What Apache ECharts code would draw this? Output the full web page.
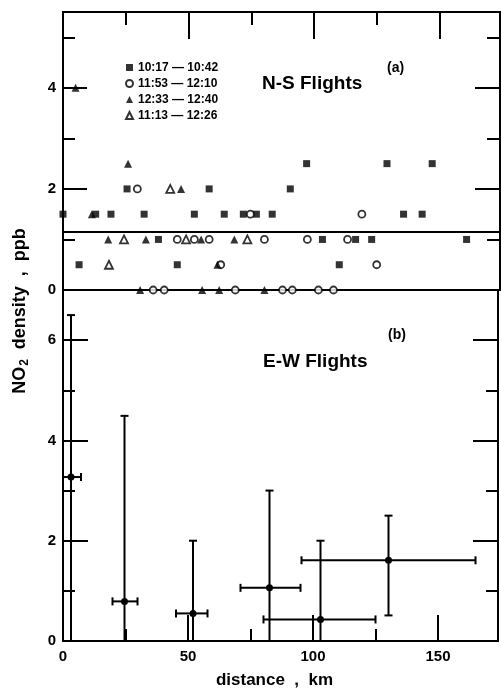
<!DOCTYPE html>
<html>
<head>
<meta charset="utf-8">
<script src="https://cdn.jsdelivr.net/npm/echarts@6/dist/echarts.min.js"></script>
<style>
html, body { margin: 0; padding: 0; background: #fff; }
#chart { width: 501px; height: 694px; }
</style>
</head>
<body>
<div id="chart"></div>
<script>
// (a) N-S flights : distance (km) and NO2 density (ppb), one pair of arrays per time window
const sqName = '10:17 — 10:42'
const sqDist = [97, 129, 147, 25.5, 58.2, 90.5, 0, 13, 19.1, 32.3, 52.3, 64.2, 71.8, 77, 83.3, 135.6, 143, 38, 103.3, 116.5, 122.9, 160.7, 6.4, 45.5, 110]
const sqVal = [2.5, 2.5, 2.5, 2, 2, 2, 1.5, 1.5, 1.5, 1.5, 1.5, 1.5, 1.5, 1.5, 1.5, 1.5, 1.5, 1, 1, 1, 1, 1, 0.5, 0.5, 0.5]

const circName = '11:53 — 12:10'
const circDist = [29.6, 74.6, 119, 45.5, 52.3, 58.2, 80.2, 97.3, 113.3, 62.8, 124.9, 35.9, 40.3, 68.6, 87.4, 91.3, 101.7, 107.7]
const circVal = [2, 1.5, 1.5, 1, 1, 1, 1, 1, 1, 0.5, 0.5, 0, 0, 0, 0, 0, 0, 0]

const triName = '12:33 — 12:40'
const triDist = [5, 25.9, 47, 11.5, 18, 33, 55, 68.2, 61.5, 30.7, 55.4, 62.2, 80.2]
const triVal = [4, 2.5, 2, 1.5, 1, 1, 1, 1, 0.5, 0, 0, 0, 0]

const openTriName = '11:13 — 12:26'
const openTriDist = [42.7, 24.3, 49, 73.4, 18.3]
const openTriVal = [2, 1, 1, 1, 0.5]

const nsDivider = 1.16

// (b) E-W flights : means with error ranges
const ewDist = [3.2, 24.6, 52, 82.6, 103, 130.2]
const ewDistLo = [0, 19.8, 45.2, 71, 80.2, 95.4]
const ewDistHi = [7.2, 29.8, 57.8, 95, 125, 165]
const ewVal = [3.27, 0.79, 0.55, 1.06, 0.43, 1.61]
const ewValLo = [0, 0, 0, 0, 0, 0.51]
const ewValHi = [6.5, 4.49, 2.0, 3.0, 2.0, 2.5]

// axis ranges / tick labels
const distMax = 174
const distLabels = [0, 50, 100, 150]
const nsMax = 5.5
const nsLabels = [0, 2, 4]
const ewMax = 7
const ewLabels = [0, 2, 4, 6]

const FONT = 'Liberation Sans'
const chart = echarts.init(document.getElementById('chart'))

const pairs = (xs, ys) => xs.map((x, i) => [x, ys[i]])

function xAx(grid, pos, step, len, labels) {
  return {
    type: 'value', gridIndex: grid, position: pos, min: 0, max: distMax, interval: step,
    axisLine: { show: false, onZero: false }, splitLine: { show: false },
    axisTick: { show: true, inside: true, length: len, lineStyle: { color: '#000', width: 2 } },
    axisLabel: labels ? {
      show: true, margin: 8, color: '#000', fontFamily: FONT, fontWeight: 'bold', fontSize: 15,
      formatter: v => distLabels.includes(v) ? String(v) : ''
    } : { show: false }
  }
}

function yAx(grid, pos, max, step, len, labels) {
  return {
    type: 'value', gridIndex: grid, position: pos, min: 0, max: max, interval: step,
    axisLine: { show: false, onZero: false }, splitLine: { show: false },
    axisTick: { show: true, inside: true, length: len, lineStyle: { color: '#000', width: 2 } },
    axisLabel: labels ? {
      show: true, margin: 7, color: '#000', fontFamily: FONT, fontWeight: 'bold', fontSize: 15,
      formatter: v => labels.includes(v) ? String(v) : ''
    } : { show: false }
  }
}

const xAxes = [
  xAx(0, 'top', 50, 27, null),
  xAx(0, 'top', 25, 13, null),
  xAx(1, 'bottom', 50, 26, true),
  xAx(1, 'bottom', 25, 12, null)
]
xAxes[2].name = 'distance  ,  km'
xAxes[2].nameLocation = 'middle'
xAxes[2].nameGap = 31
xAxes[2].nameTextStyle = { color: '#000', fontFamily: FONT, fontWeight: 'bold', fontSize: 17, padding: [0, 12, 0, 0] }

const yAxes = [
  yAx(0, 'left', nsMax, 2, 24, nsLabels),
  yAx(0, 'left', nsMax, 1, 12, null),
  yAx(0, 'right', nsMax, 2, 25, null),
  yAx(0, 'right', nsMax, 1, 13, null),
  yAx(1, 'left', ewMax, 2, 25, ewLabels),
  yAx(1, 'left', ewMax, 1, 12, null),
  yAx(1, 'right', ewMax, 2, 25, null),
  yAx(1, 'right', ewMax, 1, 12, null)
]

const filled = { color: '#000' }
const open = { color: '#fff', borderColor: '#000', borderWidth: 1.8 }

const option = {
  animation: false,
  backgroundColor: '#fff',
  grid: [
    { left: 63, right: 1, top: 12, height: 278, show: true, borderColor: '#000', borderWidth: 2, backgroundColor: 'transparent' },
    { left: 63, right: 1, top: 290, height: 356, show: true, borderColor: '#000', borderWidth: 2, backgroundColor: 'transparent' }
  ],
  xAxis: xAxes,
  yAxis: yAxes,
  legend: {
    left: 120, top: 56, orient: 'vertical', itemWidth: 7, itemHeight: 7, itemGap: 3,
    textStyle: { color: '#000', fontFamily: FONT, fontWeight: 'bold', fontSize: 12, lineHeight: 13 },
    data: [sqName, circName, triName, openTriName]
  },
  graphic: [
    { type: 'text', left: 262, top: 74, style: { text: 'N-S Flights', fill: '#000', font: 'bold 19px "Liberation Sans"' } },
    { type: 'text', left: 387, top: 61, style: { text: '(a)', fill: '#000', font: 'bold 14px "Liberation Sans"' } },
    { type: 'text', left: 263, top: 352, style: { text: 'E-W Flights', fill: '#000', font: 'bold 19px "Liberation Sans"' } },
    { type: 'text', left: 388, top: 328, style: { text: '(b)', fill: '#000', font: 'bold 14px "Liberation Sans"' } },
    {
      type: 'text', x: 20, y: 311, rotation: Math.PI / 2,
      style: {
        text: '{a|NO}{s|2}{a|  density  ,  ppb}', fill: '#000', align: 'center', verticalAlign: 'middle',
        rich: {
          a: { fontFamily: FONT, fontWeight: 'bold', fontSize: 18, fill: '#000' },
          s: { fontFamily: FONT, fontWeight: 'bold', fontSize: 12, fill: '#000', padding: [9, 0, 0, 1] }
        }
      }
    }
  ],
  series: [
    {
      name: sqName, type: 'scatter', xAxisIndex: 0, yAxisIndex: 0, symbol: 'rect', symbolSize: 7,
      itemStyle: filled, data: pairs(sqDist, sqVal),
      markLine: {
        silent: true, symbol: 'none', label: { show: false },
        lineStyle: { color: '#000', width: 2, type: 'solid' },
        data: [{ yAxis: nsDivider }]
      }
    },
    { name: circName, type: 'scatter', xAxisIndex: 0, yAxisIndex: 0, symbol: 'circle', symbolSize: 7, itemStyle: open, data: pairs(circDist, circVal) },
    { name: triName, type: 'scatter', xAxisIndex: 0, yAxisIndex: 0, symbol: 'triangle', symbolSize: 8, itemStyle: filled, data: pairs(triDist, triVal) },
    { name: openTriName, type: 'scatter', xAxisIndex: 0, yAxisIndex: 0, symbol: 'triangle', symbolSize: 8, itemStyle: open, data: pairs(openTriDist, openTriVal) },
    {
      type: 'custom', xAxisIndex: 2, yAxisIndex: 4, clip: false,
      data: ewDist.map((d, i) => [d, ewVal[i], ewDistLo[i], ewDistHi[i], ewValLo[i], ewValHi[i]]),
      renderItem: (params, api) => {
        const c = api.coord([api.value(0), api.value(1)])
        const xl = api.coord([api.value(2), api.value(1)])
        const xh = api.coord([api.value(3), api.value(1)])
        const yl = api.coord([api.value(0), api.value(4)])
        const yh = api.coord([api.value(0), api.value(5)])
        const st = { stroke: '#000', lineWidth: 2 }
        const cap = 4
        const kids = [
          { type: 'line', shape: { x1: xl[0], y1: c[1], x2: xh[0], y2: c[1] }, style: st },
          { type: 'line', shape: { x1: c[0], y1: yl[1], x2: c[0], y2: yh[1] }, style: st },
          { type: 'line', shape: { x1: c[0] - cap, y1: yh[1], x2: c[0] + cap, y2: yh[1] }, style: st },
          { type: 'line', shape: { x1: xl[0], y1: c[1] - cap, x2: xl[0], y2: c[1] + cap }, style: st },
          { type: 'line', shape: { x1: xh[0], y1: c[1] - cap, x2: xh[0], y2: c[1] + cap }, style: st },
          { type: 'circle', shape: { cx: c[0], cy: c[1], r: 3.5 }, style: { fill: '#000' } }
        ]
        if (api.value(4) > 0) {
          kids.push({ type: 'line', shape: { x1: c[0] - cap, y1: yl[1], x2: c[0] + cap, y2: yl[1] }, style: st })
        }
        return { type: 'group', children: kids }
      }
    }
  ]
}

chart.setOption(option)
</script>
</body>
</html>
